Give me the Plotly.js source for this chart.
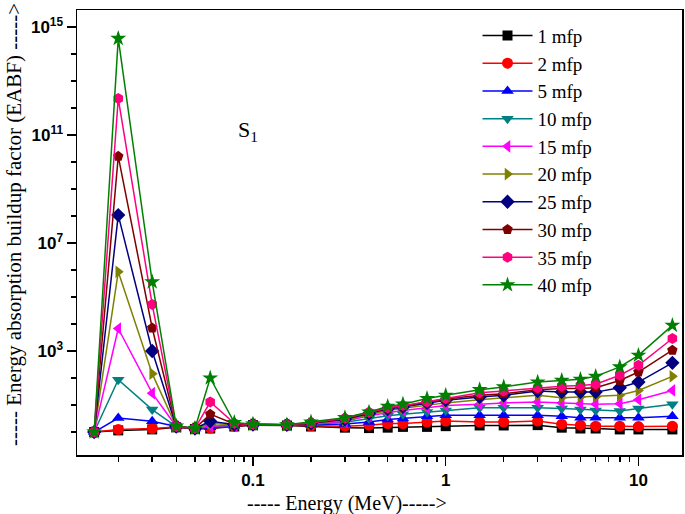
<!DOCTYPE html>
<html>
<head>
<meta charset="utf-8">
<script src="https://cdn.plot.ly/plotly-3.0.1.min.js"></script>
<style>html,body{margin:0;padding:0;background:#fff;}#chart{width:685px;height:514px;}</style>
</head>
<body>
<div id="chart"></div>
<script>
// Photon energies (MeV)
const energy = [0.015, 0.02, 0.03, 0.04, 0.05, 0.06, 0.08, 0.1, 0.15, 0.2, 0.3, 0.4, 0.5, 0.6, 0.8, 1, 1.5, 2, 3, 4, 5, 6, 8, 10, 15];

// EABF values, one array per penetration depth
const mfp1  = [1.0, 1.15, 1.25, 1.5, 1.3, 1.35, 1.6, 1.8, 1.75, 1.6, 1.45, 1.4, 1.45, 1.55, 1.55, 1.65, 1.75, 1.75, 1.8, 1.45, 1.35, 1.35, 1.25, 1.25, 1.25];
const mfp2  = [1.0, 1.25, 1.35, 1.55, 1.35, 1.4, 1.65, 1.85, 1.8, 1.7, 1.65, 1.8, 2.05, 2.05, 2.35, 2.55, 2.35, 2.35, 2.55, 1.95, 1.8, 1.65, 1.65, 1.6, 1.65];
const mfp5  = [1.0, 3.3, 2.5, 1.6, 1.35, 1.5, 1.7, 1.9, 1.85, 1.85, 2.0, 2.35, 2.9, 3.15, 3.8, 4.2, 4.2, 4.2, 4.2, 3.8, 3.4, 3.4, 3.4, 3.4, 3.8];
const mfp10 = [1.0, 87, 6.8, 1.6, 1.35, 1.6, 1.75, 1.9, 1.85, 1.95, 2.3, 3.2, 4.0, 4.6, 5.5, 6.3, 7.9, 7.9, 7.9, 7.4, 6.8, 6.3, 6.0, 7.4, 10.7];
const mfp15 = [1.0, 6800, 27.5, 1.6, 1.35, 1.65, 1.8, 1.9, 1.85, 2.0, 2.5, 4.0, 5.2, 6.3, 7.9, 9.5, 10.7, 12, 12.9, 12, 11.2, 10.7, 11.2, 15.8, 34.7];
const mfp20 = [1.0, 8.5e5, 145, 1.6, 1.35, 2.05, 1.85, 1.9, 1.85, 2.05, 2.75, 4.5, 6.3, 7.6, 10, 12, 15.8, 18.6, 22.9, 18.6, 20, 20, 22.9, 34.7, 115];
const mfp25 = [1.0, 1.07e8, 1000, 1.6, 1.35, 2.5, 1.9, 1.9, 1.85, 2.1, 2.95, 4.8, 7.1, 8.5, 12, 15.1, 20, 22.9, 33, 30, 30, 30, 43.6, 70.8, 363];
const mfp30 = [1.0, 1.6e10, 7100, 1.6, 1.35, 4.6, 2.0, 1.9, 1.85, 2.15, 3.2, 5.1, 7.6, 9.1, 13.2, 16.6, 22.9, 26.3, 37, 40.7, 40.7, 43.6, 81, 166, 1070];
const mfp35 = [1.0, 2.2e12, 5.2e4, 1.6, 1.35, 12.9, 2.1, 1.9, 1.85, 2.2, 3.25, 5.4, 7.9, 9.5, 12.9, 17.4, 28.2, 33, 43.6, 49, 52.5, 59, 126, 295, 2900];
const mfp40 = [1.0, 3.7e14, 3.6e5, 1.65, 1.35, 100, 2.25, 1.95, 1.85, 2.35, 3.4, 5.5, 8.9, 10.7, 17.4, 22.9, 37, 46.8, 70.8, 81, 89, 115, 257, 692, 8900];

const seriesNames = ["1 mfp", "2 mfp", "5 mfp", "10 mfp", "15 mfp", "20 mfp", "25 mfp", "30 mfp", "35 mfp", "40 mfp"];
const seriesData = [mfp1, mfp2, mfp5, mfp10, mfp15, mfp20, mfp25, mfp30, mfp35, mfp40];
const colors = ["#000000", "#FF0000", "#0000FF", "#008080", "#FF00FF", "#808000", "#000080", "#800000", "#FF0080", "#008000"];
const symbols = ["square", "circle", "triangle-up", "triangle-down", "triangle-left", "triangle-right", "diamond", "pentagon", "hexagon", "star"];
const sizes = [10, 11, 11, 11, 11, 11, 11, 11, 11, 12];

// Axis ticks
const xTickVals = [0.1, 1, 10];
const xTickText = ["0.1", "1", "10"];
const xMinorVals = [0.02,0.03,0.04,0.05,0.06,0.07,0.08,0.09,0.2,0.3,0.4,0.5,0.6,0.7,0.8,0.9,2,3,4,5,6,7,8,9];
const yTickVals = [1e3, 1e7, 1e11, 1e15];
const yTickText = ["10<sup>3</sup>", "10<sup>7</sup>", "10<sup>11</sup>", "10<sup>15</sup>"];
const yMinorVals = [1,10,100,1e4,1e5,1e6,1e8,1e9,1e10,1e12,1e13,1e14];

const traces = seriesNames.map((n, i) => ({
  x: energy, y: seriesData[i], name: n, type: "scatter", mode: "lines+markers",
  line: {color: colors[i], width: 1.5},
  marker: {symbol: symbols[i], size: sizes[i], color: colors[i], line: {width: 0}}
}));

const tickFont = {family: "Liberation Sans", size: 17, color: "#000", weight: "bold"};
const serif = "Liberation Serif";

const layout = {
  width: 685, height: 514,
  margin: {l: 77, r: 3, t: 10, b: 59},
  paper_bgcolor: "#fff", plot_bgcolor: "#fff",
  showlegend: true,
  legend: {x: 0.662, y: 0.985, xanchor: "left", yanchor: "top", bgcolor: "rgba(0,0,0,0)",
           font: {family: serif, size: 19, color: "#000"}, itemwidth: 50, tracegroupgap: 0},
  xaxis: {
    type: "log", range: [-1.913, 1.226], tickmode: "array", tickvals: xTickVals, ticktext: xTickText,
    ticks: "outside", ticklen: 9, tickwidth: 1.5, tickcolor: "#000",
    minor: {tickmode: "array", tickvals: xMinorVals, ticks: "outside", ticklen: 5, tickwidth: 1.5, tickcolor: "#000", showgrid: false},
    showline: true, linecolor: "#000", linewidth: 1.5, mirror: true, showgrid: false, zeroline: false,
    tickfont: tickFont,
    title: {text: ""}
  },
  yaxis: {
    type: "log", range: [-0.85, 15.62], tickmode: "array", tickvals: yTickVals, ticktext: yTickText,
    ticks: "outside", ticklen: 9, tickwidth: 1.5, tickcolor: "#000",
    minor: {tickmode: "array", tickvals: yMinorVals, ticks: "outside", ticklen: 5, tickwidth: 1.5, tickcolor: "#000", showgrid: false},
    showline: true, linecolor: "#000", linewidth: 1.5, mirror: true, showgrid: false, zeroline: false,
    tickfont: tickFont,
    title: {text: ""}
  },
  annotations: [
    {text: "S<sub>1</sub>", xref: "paper", yref: "paper", x: 0.262, y: 0.765, showarrow: false,
     font: {family: serif, size: 22, color: "#000"}},
    {text: "----- Energy (MeV)----->", xref: "paper", yref: "paper", x: 0.446, y: -0.108,
     xanchor: "center", yanchor: "middle", showarrow: false, font: {family: serif, size: 20, color: "#000"}},
    {text: "----- Energy absorption buildup factor (EABF) ----->", xref: "paper", yref: "paper",
     x: -0.104, y: 0.517, xanchor: "center", yanchor: "middle", textangle: -90, showarrow: false,
     font: {family: serif, size: 21, color: "#000"}}
  ]
};

Plotly.newPlot("chart", traces, layout, {staticPlot: true, displayModeBar: false});
</script>
</body>
</html>
